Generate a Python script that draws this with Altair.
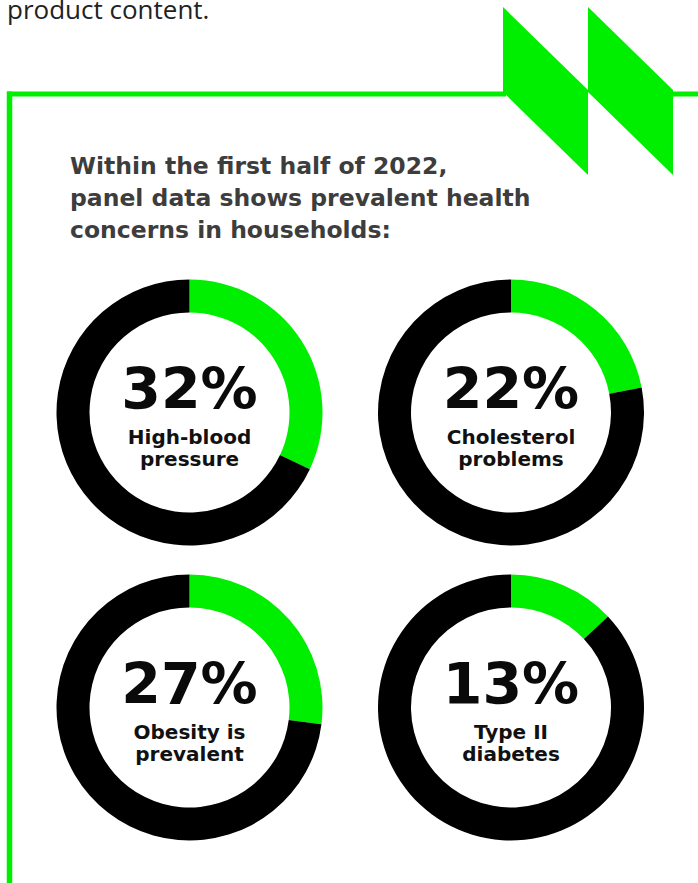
import math
import altair as alt
import pandas as pd

# ---- data ----
pcts = [32, 22, 27, 13]
label_line1 = ["High-blood", "Cholesterol", "Obesity is", "Type II"]
label_line2 = ["pressure", "problems", "prevalent", "diabetes"]
title_lines = [
    "Within the first half of 2022,",
    "panel data shows prevalent health",
    "concerns in households:",
]
intro_text = "product content."

GREEN = "#00EE00"
BLACK = "#000000"

df = pd.DataFrame({
    "idx": list(range(len(pcts))),
    "pct": pcts,
    "line1": label_line1,
    "line2": label_line2,
})

seg_rows = []
for i, p in enumerate(pcts):
    seg_rows.append({"idx": i, "part": "share", "start": 0, "end": p})
    seg_rows.append({"idx": i, "part": "rest", "start": p, "end": 100})
seg = pd.DataFrame(seg_rows)

x_enc = alt.X("col:Q", scale=alt.Scale(domain=[0, 1], range=[189.5, 511], nice=False, zero=False), axis=None)
y_enc = alt.Y("row:Q", scale=alt.Scale(domain=[0, 1], range=[412.5, 707.5], nice=False, zero=False), axis=None)

grid_calc = dict(col="datum.idx % 2", row="floor(datum.idx / 2)")

arcs = alt.Chart(seg).transform_calculate(**grid_calc).mark_arc(
    radius=133, radius2=100
).encode(
    x=x_enc,
    y=y_enc,
    theta=alt.Theta("start:Q", scale=alt.Scale(domain=[0, 100], range=[0, 2 * math.pi])),
    theta2="end:Q",
    color=alt.Color("part:N", scale=alt.Scale(domain=["share", "rest"], range=[GREEN, BLACK]), legend=None),
)

pct_text = alt.Chart(df).transform_calculate(
    **grid_calc, pct_label="datum.pct + '%'"
).mark_text(
    font="DejaVu Sans", fontWeight="bold", fontSize=57, color="#0a0a0a",
    align="center", baseline="alphabetic", dy=-4,
).encode(x=x_enc, y=y_enc, text="pct_label:N")

lab_text = alt.Chart(df).transform_calculate(
    **grid_calc, lab="datum.line1 + '\\n' + datum.line2"
).mark_text(
    font="DejaVu Sans", fontWeight="bold", fontSize=20, color="#111111",
    align="center", baseline="alphabetic", dy=31, lineBreak="\n", lineHeight=22,
).encode(x=x_enc, y=y_enc, text="lab:N")

one = alt.Data(values=[{"a": 1}])

title = alt.Chart(one).mark_text(
    font="DejaVu Sans", fontWeight="bold", fontSize=23.5, color="#3d3d3d",
    align="left", baseline="alphabetic", lineBreak="\n", lineHeight=32,
).encode(x=alt.value(70), y=alt.value(174), text=alt.value("\n".join(title_lines)))

intro = alt.Chart(one).mark_text(
    font="Open Sans", fontSize=26, color="#222222",
    align="left", baseline="alphabetic",
).encode(x=alt.value(7), y=alt.value(19), text=alt.value(intro_text))

vline = alt.Chart(one).mark_rule(color=GREEN, strokeWidth=5.5, strokeCap="butt").encode(
    x=alt.value(9.5), y=alt.value(91.5), y2=alt.value(883)
)
hline1 = alt.Chart(one).mark_rule(color=GREEN, strokeWidth=5, strokeCap="butt").encode(
    x=alt.value(7), x2=alt.value(506), y=alt.value(94)
)
hline2 = alt.Chart(one).mark_rule(color=GREEN, strokeWidth=5, strokeCap="butt").encode(
    x=alt.value(670), x2=alt.value(698), y=alt.value(94)
)

para_path = "M-0.506,-1 L0.506,-0.012 L0.506,1 L-0.506,0.012 Z"
para1 = alt.Chart(one).mark_point(
    shape=para_path, size=168 * 168, filled=True, color=GREEN, opacity=1, strokeWidth=0
).encode(x=alt.value(545.5), y=alt.value(91))
para2 = alt.Chart(one).mark_point(
    shape=para_path, size=168 * 168, filled=True, color=GREEN, opacity=1, strokeWidth=0
).encode(x=alt.value(630.5), y=alt.value(91))

chart = alt.layer(
    vline, hline1, hline2, para1, para2, intro, title, arcs, pct_text, lab_text
).properties(
    width=698, height=883, padding=0,
    autosize=alt.AutoSizeParams(type="none"),
    background="white",
).configure_view(strokeWidth=0)

chart.save("out.html", embed_options={"renderer": "svg", "actions": False})
